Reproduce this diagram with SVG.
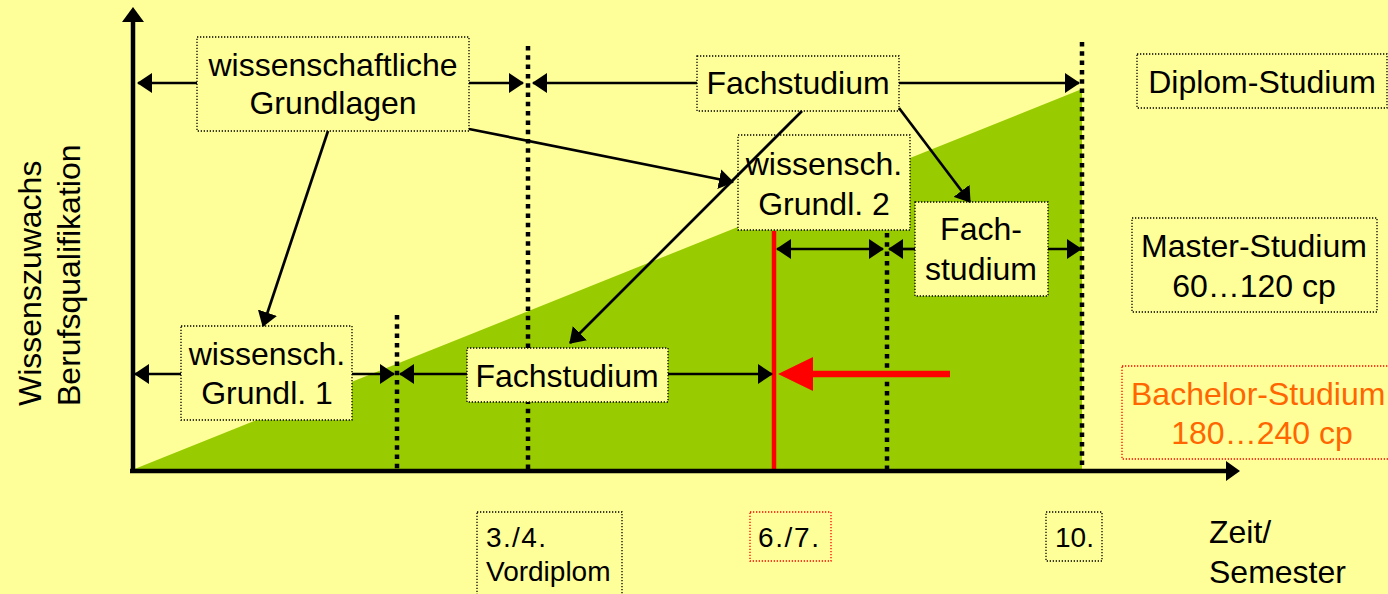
<svg xmlns="http://www.w3.org/2000/svg" width="1388" height="594" viewBox="0 0 1388 594">
<defs>
<style>
.t{font-family:"Liberation Sans",Arial,sans-serif;font-size:32px;fill:#000}
.s{font-family:"Liberation Sans",Arial,sans-serif;font-size:28px;fill:#000}
.o{fill:#FF6600}
.box{fill:#FFFF99;stroke:#000;stroke-width:1.3;stroke-dasharray:1.3 1.7}
.rbox{fill:#FFFF99;stroke:#FF0000;stroke-width:1.3;stroke-dasharray:1.3 1.7}
.dot{stroke:#000;stroke-width:4.5;stroke-dasharray:4.5 4.8;fill:none}
.ar{stroke:#000;stroke-width:2.7;fill:none;marker-end:url(#ah)}
.dar{stroke:#000;stroke-width:2.7;fill:none;marker-end:url(#ah);marker-start:url(#ah)}
.ax{stroke:#000;stroke-width:4.5;fill:none}
</style>
<marker id="ah" viewBox="0 0 15 20" refX="14" refY="10" markerWidth="15" markerHeight="20" markerUnits="userSpaceOnUse" orient="auto-start-reverse">
<path d="M0,0 L15,10 L0,20 z" fill="#000"/>
</marker>
</defs>
<rect x="0" y="0" width="1388" height="594" fill="#FFFF99"/>
<g id="area">
<polygon points="132,470 1082,89 1082,470" fill="#99CC00"/>
</g>
<g id="grid">
<line class="dot" x1="397" y1="315" x2="397" y2="469"/>
<line class="dot" x1="528" y1="46" x2="528" y2="469"/>
<line class="dot" x1="887" y1="233" x2="887" y2="469"/>
<line class="dot" x1="1082" y1="42" x2="1082" y2="469"/>
<line x1="774" y1="231" x2="774" y2="472" stroke="#FF0000" stroke-width="4.5"/>
</g>
<g id="axes">
<line class="ax" x1="133" y1="20" x2="133" y2="473"/>
<polygon points="133,7 122,22 144,22" fill="#000"/>
<line class="ax" x1="130" y1="471" x2="1228" y2="471"/>
<polygon points="1240,471 1226,461 1226,481" fill="#000"/>
<text class="t" transform="translate(41,406) rotate(-90)">Wissenszuwachs</text>
<text class="t" transform="translate(80,406) rotate(-90)">Berufsqualifikation</text>
<text class="t" x="1209" y="543">Zeit/</text>
<text class="t" x="1209" y="583">Semester</text>
</g>
<g id="n-grundlagen">
<rect class="box" x="197" y="37" width="272" height="94"/>
<text class="t" x="333" y="76" text-anchor="middle">wissenschaftliche</text>
<text class="t" x="333" y="114" text-anchor="middle">Grundlagen</text>
</g>
<g id="n-fachstudium-top">
<rect class="box" x="697" y="56" width="202" height="55"/>
<text class="t" x="798" y="94" text-anchor="middle">Fachstudium</text>
</g>
<g id="n-diplom">
<rect class="box" x="1137" y="54" width="250" height="54"/>
<text class="t" x="1262" y="93" text-anchor="middle">Diplom-Studium</text>
</g>
<g id="n-grundl2">
<rect class="box" x="738" y="135" width="172" height="95"/>
<text class="t" x="824" y="175" text-anchor="middle">wissensch.</text>
<text class="t" x="824" y="215" text-anchor="middle">Grundl. 2</text>
</g>
<g id="n-fachstudium-right">
<rect class="box" x="915" y="202" width="133" height="94"/>
<text class="t" x="981" y="240" text-anchor="middle">Fach-</text>
<text class="t" x="981" y="280" text-anchor="middle">studium</text>
</g>
<g id="n-master">
<rect class="box" x="1132" y="218" width="245" height="94"/>
<text class="t" x="1254" y="257" text-anchor="middle">Master-Studium</text>
<text class="t" x="1254" y="297" text-anchor="middle">60…120 cp</text>
</g>
<g id="n-bachelor">
<rect class="rbox" x="1122" y="366" width="280" height="93"/>
<text class="t o" x="1131" y="405">Bachelor-Studium</text>
<text class="t o" x="1262" y="444" text-anchor="middle">180…240 cp</text>
</g>
<g id="n-grundl1">
<rect class="box" x="181" y="326" width="171" height="94"/>
<text class="t" x="267" y="365" text-anchor="middle">wissensch.</text>
<text class="t" x="267" y="404" text-anchor="middle">Grundl. 1</text>
</g>
<g id="n-fachstudium-low">
<rect class="box" x="467" y="348" width="201" height="54"/>
<text class="t" x="567" y="387" text-anchor="middle">Fachstudium</text>
</g>
<g id="n-sem4">
<rect class="box" x="477" y="512" width="145" height="90"/>
<text class="s" x="486" y="547" textLength="60">3./4.</text>
<text class="s" x="486" y="581">Vordiplom</text>
</g>
<g id="n-sem7">
<rect class="rbox" x="750" y="512" width="81" height="49"/>
<text class="s" x="758" y="547" textLength="61">6./7.</text>
</g>
<g id="n-sem10">
<rect class="box" x="1046" y="512" width="56" height="49"/>
<text class="s" x="1055" y="547">10.</text>
</g>
<g id="connectors">
<line class="ar" x1="197" y1="83" x2="138" y2="83"/>
<line class="ar" x1="469" y1="83" x2="523" y2="83"/>
<line class="ar" x1="697" y1="83" x2="533" y2="83"/>
<line class="ar" x1="899" y1="83" x2="1079" y2="83"/>
<line class="dar" x1="777" y1="249" x2="883" y2="249"/>
<line class="ar" x1="915" y1="249" x2="889" y2="249"/>
<line class="ar" x1="1048" y1="249" x2="1081" y2="249"/>
<line class="ar" x1="181" y1="374" x2="135" y2="374"/>
<line class="ar" x1="352" y1="374" x2="394" y2="374"/>
<line class="ar" x1="467" y1="374" x2="400" y2="374"/>
<line class="ar" x1="668" y1="374" x2="772" y2="374"/>
<line class="ar" x1="328" y1="131" x2="263" y2="326"/>
<line class="ar" x1="469" y1="129" x2="733" y2="182"/>
<line class="ar" x1="802" y1="111" x2="570" y2="343"/>
<line class="ar" x1="899" y1="108" x2="970" y2="202"/>
<line x1="950" y1="374" x2="810" y2="374" stroke="#FF0000" stroke-width="6.5"/>
<polygon points="778,374 813,357 813,391" fill="#FF0000"/>
</g>
</svg>
